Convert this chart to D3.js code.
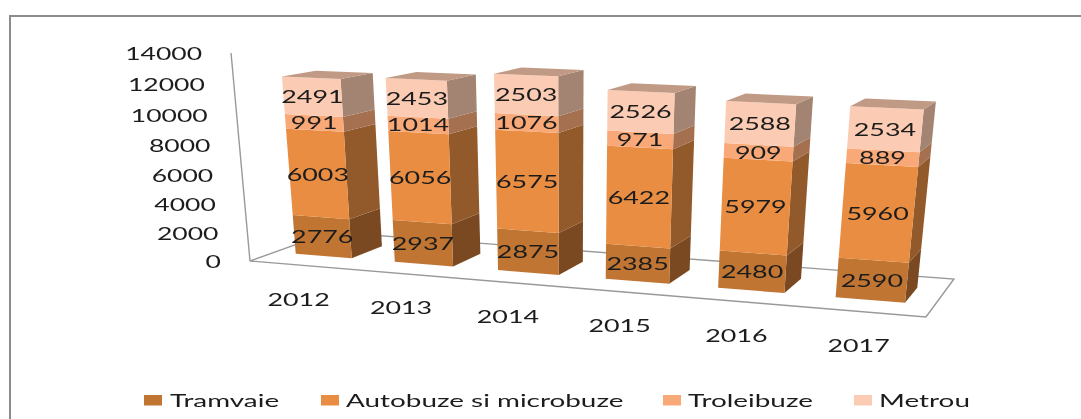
<!DOCTYPE html>
<html><head><meta charset="utf-8">
<script src="https://cdn.jsdelivr.net/npm/d3@7"></script>
<style>html,body{margin:0;padding:0;background:#fff}svg{display:block}text{font-family:Lato,sans-serif;fill:#1c1c1c}</style>
</head><body><svg id="c" width="1081" height="419"></svg>
<script>
const years = ["2012","2013","2014","2015","2016","2017"];
const seriesNames = ["Tramvaie","Autobuze si microbuze","Troleibuze","Metrou"];
const tramvaie = [2776,2937,2875,2385,2480,2590];
const autobuze = [6003,6056,6575,6422,5979,5960];
const troleibuze = [991,1014,1076,971,909,889];
const metrou = [2491,2453,2503,2526,2588,2534];
const yTicks = [0,2000,4000,6000,8000,10000,12000,14000];
const frontColors = ["#c07433","#e88d42","#f9a978","#fbcbb3"];
const sideColors = ["#7a4a20","#925a2b","#a4704f","#a38472"];
const topColor = "#c09a85";

const svg = d3.select("#c");
svg.append("defs").append("filter").attr("id","soft").attr("x","-2%").attr("y","-2%").attr("width","104%").attr("height","104%")
   .append("feGaussianBlur").attr("stdDeviation",0.45);
const root = svg.append("g").attr("filter","url(#soft)");
// unit box → screen perspective camera
const xS = d3.scaleBand().domain(years).range([0,0.996]).paddingInner(0.43).paddingOuter(0.215);
const zFront=0.29, zBack=0.69;
const vS = d3.scaleLinear().domain([0,14000]).range([0,1]);
const cam = {a:[560.5,111,-31.9,250], b:[16.5,-8,-211,261], w:[-0.1247,0.0907,-0.056,1]};
function P(x,z,v){const t=vS(v);
  const d=cam.w[0]*x+cam.w[1]*z+cam.w[2]*t+cam.w[3];
  return [(cam.a[0]*x+cam.a[1]*z+cam.a[2]*t+cam.a[3])/d,(cam.b[0]*x+cam.b[1]*z+cam.b[2]*t+cam.b[3])/d];}
const poly = pts => "M"+pts.map(p=>p[0].toFixed(2)+","+p[1].toFixed(2)).join("L")+"Z";

// frame
root.append("path").attr("d","M10,440V16H1100").attr("fill","none").attr("stroke","#8c8c8c").attr("stroke-width",2);

// floor + axis
root.append("path").attr("d",poly([P(0,0,0),P(1,0,0),P(1,1,0),P(0,1,0)])).attr("fill","#fff").attr("stroke","#999").attr("stroke-width",1.4);
root.append("path").attr("d",poly([P(0,0,0),P(0,0,14000)])).attr("fill","none").attr("stroke","#999").attr("stroke-width",1.4);

function label(sel,x,y,txt,sx,size,anchor){
  sel.append("text").attr("transform",`translate(${x},${y}) scale(${sx},1)`)
   .attr("text-anchor",anchor||"middle").attr("dominant-baseline","central").attr("font-size",size).text(txt);
}
const g=root.append("g");
// y ticks
yTicks.forEach(v=>{const p=P(0,0,v); label(g,p[0]-29,p[1]+0.5,v,1.56,17,"end");});
// bars
const stacks=years.map((y,i)=>{let s=0;return [tramvaie[i],autobuze[i],troleibuze[i],metrou[i]].map(v=>{const r=[s,s+v,v];s+=v;return r;});});
years.forEach((y,i)=>{
  const x0=xS(y),x1=x0+xS.bandwidth();
  stacks[i].forEach((seg,k)=>{
    const [a,b]=seg;
    g.append("path").attr("d",poly([P(x1,zFront,a),P(x1,zBack,a),P(x1,zBack,b),P(x1,zFront,b)])).attr("fill",sideColors[k]);
    g.append("path").attr("d",poly([P(x0,zFront,a),P(x1,zFront,a),P(x1,zFront,b),P(x0,zFront,b)])).attr("fill",frontColors[k]);
  });
  const top=stacks[i][3][1];
  g.append("path").attr("d",poly([P(x0,zFront,top),P(x1,zFront,top),P(x1,zBack,top),P(x0,zBack,top)])).attr("fill",topColor);
  stacks[i].forEach(seg=>{
    const [a,b,v]=seg, p=P((x0+x1)/2,zFront,(a+b)/2);
    label(g,p[0],p[1],v,1.58,17);
  });
  const q=P((x0+x1)/2,0,0);
  label(g,q[0]-1,q[1]+34,y,1.58,17);
});
// legend
const legendSwatchX=[144,321,663,854];
const legendTextX=[170,346,688,879];
const lg=root.append("g");
seriesNames.forEach((name,i)=>{
  lg.append("rect").attr("x",legendSwatchX[i]).attr("y",395).attr("width",18).attr("height",10.5).attr("fill",frontColors[i]);
  lg.append("text").attr("transform",`translate(${legendTextX[i]},400.5) scale(1.64,1)`).attr("dominant-baseline","central").attr("font-size",17).text(name);
});
</script></body></html>
